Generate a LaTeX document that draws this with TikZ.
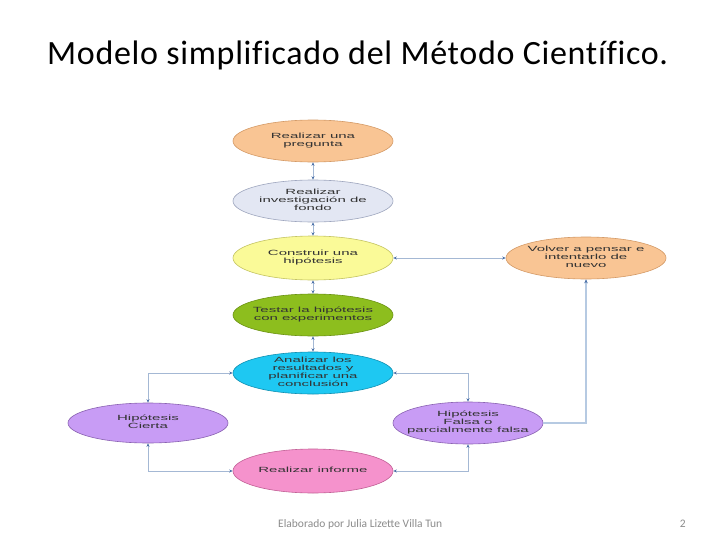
\documentclass[tikz,border=0pt]{standalone}
\usepackage{fontspec}
\usepackage{graphicx}
\setmainfont{Carlito}
\newfontfamily\arialf{Liberation Sans}
\newfontfamily\titlef[Ligatures=NoCommon,LetterSpace=2]{Carlito}
\usetikzlibrary{shapes.geometric,arrows.meta}
\definecolor{orf}{HTML}{F9C594}
\definecolor{ord}{HTML}{D49A66}
\definecolor{grf}{HTML}{E3E7F3}
\definecolor{grd}{HTML}{9EA6BE}
\definecolor{yef}{HTML}{FAFA98}
\definecolor{yed}{HTML}{C4C462}
\definecolor{gnf}{HTML}{8DBE1E}
\definecolor{gnd}{HTML}{6B9212}
\definecolor{cyf}{HTML}{1EC8F2}
\definecolor{cyd}{HTML}{1190B2}
\definecolor{puf}{HTML}{C89CF5}
\definecolor{pud}{HTML}{8A62B2}
\definecolor{pkf}{HTML}{F592CC}
\definecolor{pkd}{HTML}{C26096}
\definecolor{linec}{HTML}{A4B8D4}
\definecolor{tipc}{HTML}{4A70A8}
\definecolor{thickc}{HTML}{B6CAE2}
\definecolor{txtc}{HTML}{333333}
\definecolor{footc}{HTML}{8C8C8C}
\newcommand\etx[1]{\scalebox{2}[1]{\begin{tabular}{@{}c@{}}#1\end{tabular}}}
\begin{document}
\begin{tikzpicture}[x=1pt,y=-1pt,
  ell/.style={ellipse, inner sep=0pt, minimum width=160pt, minimum height=42pt, line width=0.6pt},
  lbl/.style={inner sep=0pt, text=txtc, font=\arialf\fontsize{7.5}{7.7}\selectfont},
  conn/.style={draw=linec, line width=0.7pt, {Stealth[length=3.5pt,width=3pt,color=tipc]}-{Stealth[length=3.5pt,width=3pt,color=tipc]}},
  conn2/.style={draw=thickc, line width=1.8pt, -{Stealth[length=4pt,width=3.5pt,color=tipc]}}]
\fill[white] (0,0) rectangle (728,546);
\useasboundingbox (0,0) rectangle (728,546);

\node (title) [anchor=base west, inner sep=0pt, font=\titlef\fontsize{34}{34}\selectfont] at (47,64) {Modelo simplificado del Método Científico.};

\node (e1) [ell, fill=orf, draw=ord] at (313,141) {};
\node (e2) [ell, fill=grf, draw=grd] at (313,201) {};
\node (e3) [ell, fill=yef, draw=yed, minimum height=44pt] at (313,258) {};
\node (e4) [ell, fill=gnf, draw=gnd] at (313,315) {};
\node (e5) [ell, fill=cyf, draw=cyd] at (313,373) {};
\node (e6) [ell, fill=puf, draw=pud, minimum height=40pt] at (148,423) {};
\node (e7) [ell, fill=puf, draw=pud, minimum width=150pt] at (468,423) {};
\node (e8) [ell, fill=pkf, draw=pkd, minimum height=44pt] at (313,471) {};
\node (e9) [ell, fill=orf, draw=ord] at (586,258) {};

\node (t1) [lbl] at (e1) {\etx{Realizar una\\pregunta}};
\node (t2) [lbl] at (e2) {\etx{Realizar\\investigación de\\fondo}};
\node (t3) [lbl] at (e3) {\etx{Construir una\\hipótesis}};
\node (t4) [lbl] at (e4) {\etx{Testar la hipótesis\\con experimentos}};
\node (t5) [lbl] at (e5) {\etx{Analizar los\\resultados y\\planificar una\\conclusión}};
\node (t6) [lbl] at (e6) {\etx{Hipótesis\\Cierta}};
\node (t7) [lbl] at (e7) {\etx{Hipótesis\\Falsa o\\parcialmente falsa}};
\node (t8) [lbl] at (e8) {\etx{Realizar informe}};
\node (t9) [lbl] at (e9) {\etx{Volver a pensar e\\intentarlo de\\nuevo}};

\draw[conn] (e1.south) -- (e2.north);
\draw[conn] (e2.south) -- (e3.north);
\draw[conn] (e3.south) -- (e4.north);
\draw[conn] (e4.south) -- (e5.north);
\draw[conn] (e3.east) -- (e9.west);
\draw[conn] (e5.west) -| (e6.north);
\draw[conn] (e5.east) -| (e7.north);
\draw[conn] (e6.south) |- (e8.west);
\draw[conn] (e7.south) |- (e8.east);
\draw[conn2] (e7.east) -| (e9.south);

\node (foot) [anchor=base west, inner sep=0pt, text=footc, font=\fontsize{11.5}{11.5}\selectfont] at (278,527) {Elaborado por Julia Lizette Villa Tun};
\node (pg) [anchor=base east, inner sep=0pt, text=footc, font=\fontsize{11.5}{11.5}\selectfont] at (686,527) {2};
\end{tikzpicture}
\end{document}
